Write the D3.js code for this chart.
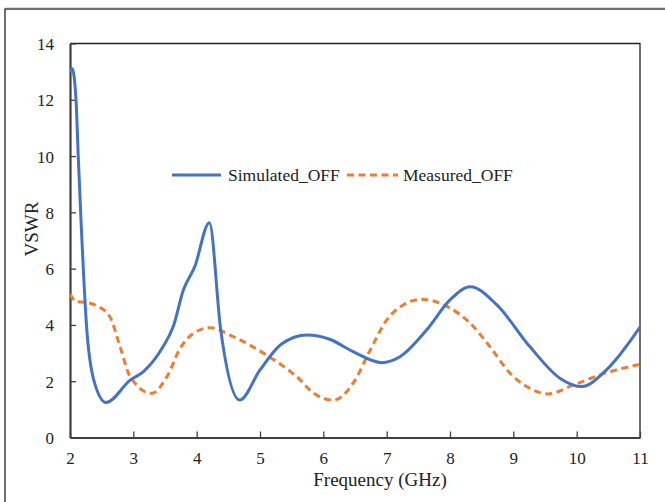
<!DOCTYPE html>
<html>
<head>
<meta charset="utf-8">
<script src="https://cdn.jsdelivr.net/npm/d3@7"></script>
<style>
  html, body { margin: 0; padding: 0; background: #fff; }
  svg { display: block; }
  svg text { font-family: "Liberation Serif", "Times New Roman", "DejaVu Serif", serif; }
</style>
</head>
<body>
<svg id="chart" width="665" height="502"></svg>
<script>
// VSWR vs frequency, simulated and measured (OFF state)
const simFreq = [2.0, 2.035, 2.095, 2.13, 2.18, 2.21, 2.26, 2.38, 2.57, 2.95, 3.16, 3.47, 3.63, 3.79, 3.97, 4.2, 4.38, 4.68, 5.0, 5.34, 5.74, 6.1, 6.47, 6.92, 7.21, 7.63, 8.0, 8.32, 8.74, 9.26, 9.74, 10.08, 10.47, 11.0];
const simVswr = [13.0, 13.1, 12.0, 10.0, 7.4, 6.0, 4.0, 2.0, 1.24, 2.04, 2.34, 3.23, 3.94, 5.24, 6.07, 7.63, 3.82, 1.33, 2.4, 3.32, 3.64, 3.49, 3.05, 2.66, 2.87, 3.82, 4.89, 5.36, 4.71, 3.23, 2.10, 1.81, 2.40, 3.92];

const measFreq = [2.0, 2.1, 2.25, 2.42, 2.63, 2.79, 2.95, 3.29, 3.53, 3.74, 3.95, 4.21, 4.58, 5.1, 5.58, 5.85, 6.16, 6.47, 6.74, 7.0, 7.26, 7.55, 7.95, 8.32, 8.63, 8.95, 9.21, 9.55, 9.95, 10.47, 11.0];
const measVswr = [5.1, 4.83, 4.8, 4.68, 4.29, 3.23, 2.16, 1.57, 2.16, 3.17, 3.70, 3.90, 3.58, 2.93, 2.16, 1.57, 1.33, 1.93, 3.11, 4.17, 4.71, 4.91, 4.66, 4.06, 3.23, 2.28, 1.81, 1.55, 1.87, 2.30, 2.60];

const xTicks = [2, 3, 4, 5, 6, 7, 8, 9, 10, 11];
const yTicks = [0, 2, 4, 6, 8, 10, 12, 14];
const seriesNames = ["Simulated_OFF", "Measured_OFF"];

const svg = d3.select("#chart");

const x = d3.scaleLinear().domain([2, 11]).range([70, 640]);
const y = d3.scaleLinear().domain([0, 14]).range([437.5, 43.5]);

// outer frame
svg.append("rect")
  .attr("x", 5).attr("y", 9).attr("width", 662).attr("height", 500)
  .attr("fill", "none").attr("stroke", "#222").attr("stroke-width", 1.3);
svg.append("line")
  .attr("x1", 5).attr("x2", 665).attr("y1", 7.5).attr("y2", 7.5)
  .attr("stroke", "#ddd").attr("stroke-width", 1);

// plot box: top and right edges
svg.append("path")
  .attr("d", `M${x(2)},${y(14)}H${x(11)}V${y(0)}`)
  .attr("fill", "none").attr("stroke", "#222").attr("stroke-width", 1.3);

// axes
const xAxis = d3.axisBottom(x).tickValues(xTicks).tickSizeInner(-6).tickSizeOuter(0).tickPadding(14);
const yAxis = d3.axisLeft(y).tickValues(yTicks).tickSizeInner(-6).tickSizeOuter(0).tickPadding(16);

const gx = svg.append("g").attr("transform", `translate(0,${y(0)})`).call(xAxis);
const gy = svg.append("g").attr("transform", `translate(${x(2)},0)`).call(yAxis);

[gx, gy].forEach(g => {
  g.attr("font-family", null);
  g.select(".domain").attr("stroke", "#404040").attr("stroke-width", 2.2);
  g.selectAll(".tick line").attr("stroke", "#404040").attr("stroke-width", 1.3);
  g.selectAll(".tick text").attr("fill", "#222").attr("font-size", 17);
});
gy.selectAll(".tick text").attr("dy", "0.35em");

// axis titles
svg.append("text")
  .attr("x", 380).attr("y", 486)
  .attr("text-anchor", "middle")
  .attr("font-size", 19).attr("fill", "#222")
  .text("Frequency (GHz)");
svg.append("text")
  .attr("transform", `translate(38,${229}) rotate(-90)`)
  .attr("text-anchor", "middle")
  .attr("font-size", 19).attr("fill", "#222")
  .text("VSWR");

// curves
const line = d3.line()
  .x(d => x(d[0]))
  .y(d => y(d[1]))
  .curve(d3.curveMonotoneX);

const simData = d3.zip(simFreq, simVswr);
const measData = d3.zip(measFreq, measVswr);

svg.append("clipPath").attr("id", "plotclip")
  .append("rect").attr("x", x(2)).attr("y", y(14)).attr("width", x(11) - x(2)).attr("height", y(0) - y(14));

svg.append("path")
  .datum(measData)
  .attr("d", line)
  .attr("fill", "none")
  .attr("stroke", "#ED7D31")
  .attr("stroke-width", 3)
  .attr("stroke-dasharray", "7,4.5")
  .attr("clip-path", "url(#plotclip)");

svg.append("path")
  .datum(simData)
  .attr("d", line)
  .attr("fill", "none")
  .attr("stroke", "#4472C4")
  .attr("stroke-width", 3)
  .attr("stroke-linejoin", "round")
  .attr("clip-path", "url(#plotclip)");

// legend
const legend = svg.append("g").attr("font-size", 17.5).attr("fill", "#222");
legend.append("line")
  .attr("x1", 172).attr("x2", 221).attr("y1", 175).attr("y2", 175)
  .attr("stroke", "#4472C4").attr("stroke-width", 3);
legend.append("text").attr("x", 228).attr("y", 180.5).text(seriesNames[0]);
legend.append("line")
  .attr("x1", 347).attr("x2", 398).attr("y1", 175).attr("y2", 175)
  .attr("stroke", "#ED7D31").attr("stroke-width", 3).attr("stroke-dasharray", "7,4.5");
legend.append("text").attr("x", 403).attr("y", 180.5).text(seriesNames[1]);
</script>
</body>
</html>
